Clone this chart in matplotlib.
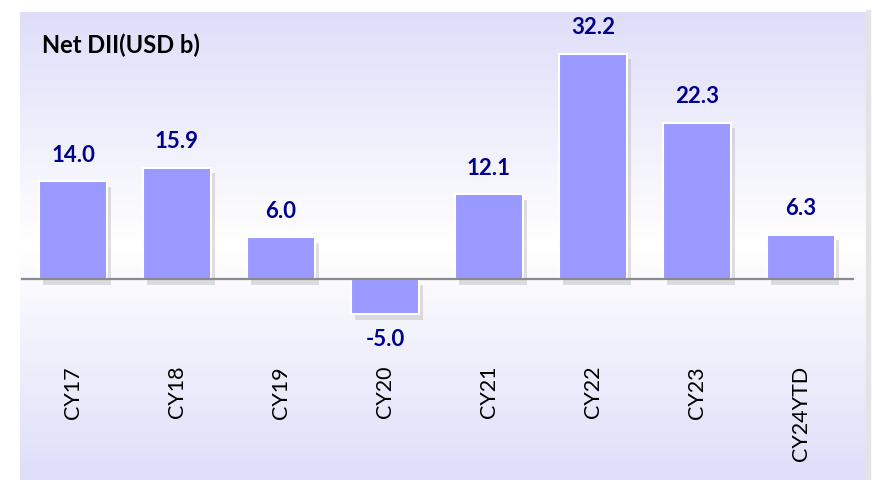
import numpy as np
import matplotlib
matplotlib.use("Agg")
import matplotlib.pyplot as plt
import matplotlib.patheffects as pe
from matplotlib.colors import LinearSegmentedColormap

# ------------------------
# Data
# ------------------------
categories = ["CY17", "CY18", "CY19", "CY20", "CY21", "CY22", "CY23", "CY24YTD"]
net_dii = [14.0, 15.9, 6.0, -5.0, 12.1, 32.2, 22.3, 6.3]

plt.rcParams['font.family'] = ['Lato', 'DejaVu Sans']

W, H = 872, 480
fig = plt.figure(figsize=(W / 100, H / 100), dpi=100)
fig.patch.set_facecolor("white")

# background panel with a lavender -> white -> lavender gradient
bg = fig.add_axes([20 / W, 0, 846 / W, 468 / H])
bg.set_axis_off()
grad = np.concatenate([np.linspace(0, 1, 50), np.linspace(1, 0, 50)])[:, None]
cmap = LinearSegmentedColormap.from_list("lav", ["#dedef9", "#ffffff"])
bg.imshow(grad, aspect="auto", cmap=cmap, extent=[0, 1, 0, 1], vmin=0, vmax=1)
bg.set_xlim(0, 1)
bg.set_ylim(0, 1)
# soft right edge shadow of the panel
fig.patches.append(plt.Rectangle((866 / W, 0), 4 / W, 470 / H, transform=fig.transFigure,
                                 color="#e4e4e4", zorder=0))

# main axes over whole figure, scales chosen to place zero line
ax = fig.add_axes([0, 0, 1, 1])
ax.patch.set_alpha(0)
ax.set_axis_off()
px_per_unit = 7.0
zero_y = 279
ax.set_ylim(-(H - zero_y) / px_per_unit, zero_y / px_per_unit)
step = 104
x0 = 73
ax.set_xlim(-x0 / step, (W - x0) / step)

x = np.arange(len(categories))
bars = ax.bar(x, net_dii, width=68 / step, color="#9999ff", edgecolor="white",
              linewidth=1.5, zorder=3)
for b in bars:
    b.set_path_effects([pe.SimplePatchShadow(offset=(3, -4), shadow_rgbFace="#999999", alpha=0.3),
                        pe.Normal()])

# zero line
ax.plot([(22 - x0) / step, (853 - x0) / step], [0, 0], color="#8a8a8a", lw=1.6, zorder=4)

# value labels
gap = 26 / px_per_unit
for xi, v in zip(x, net_dii):
    yy = v + gap if v >= 0 else v - gap
    ax.text(xi, yy, f"{v:.1f}", ha="center", va="center", color="#00008b",
            fontsize=16, fontweight="bold", zorder=5)

# category labels, rotated
for xi, c in zip(x, categories):
    ax.text(xi, -(366 - zero_y) / px_per_unit, c, rotation=90, ha="center", va="top",
            fontsize=15.5, color="black", zorder=5)

# title
fig.text(42 / W, 1 - 45 / H, "Net DII(USD b)", ha="left", va="center",
         fontsize=17, fontweight="bold", color="black")

fig.savefig("out.png", dpi=100)
